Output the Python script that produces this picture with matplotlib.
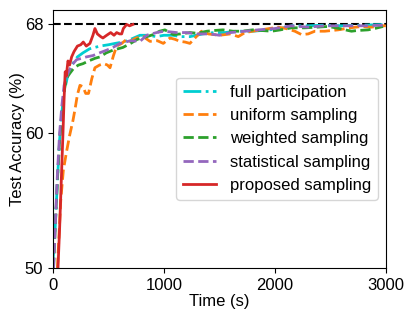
import matplotlib
matplotlib.use("Agg")
import matplotlib.pyplot as plt

plt.rcParams["font.family"] = ["Liberation Sans", "DejaVu Sans"]
plt.rcParams["font.size"] = 12

# time (s) and test accuracy (%)
full_t = [0, 20, 40, 60, 80, 100, 135, 170, 220, 270, 330, 423, 500, 560, 630, 700, 784, 850,
          934, 1000, 1081, 1150, 1234, 1350, 1450, 1550, 1650, 1800, 1950, 2050, 2150, 2300,
          2450, 2600, 2800, 3000]
full_acc = [50.5, 53, 56.5, 59.5, 61.5, 63, 64.3, 65, 65.6, 65.9, 66.2, 66.4, 66.5, 66.6, 66.7,
            66.9, 67.2, 67.2, 67.1, 67.2, 67.2, 67.1, 67.1, 67.3, 67.4, 67.4, 67.5, 67.5, 67.6,
            67.7, 67.9, 67.9, 67.95, 67.9, 67.95, 68.0]

unif_t = [40, 55, 70, 93, 120, 150, 180, 200, 220, 243, 270, 295, 320, 350, 378, 420, 460, 490,
          514, 545, 574, 620, 664, 694, 750, 814, 874, 940, 994, 1054, 1100, 1144, 1190, 1234,
          1280, 1339, 1400, 1500, 1600, 1670, 1730, 1800, 1880, 1950, 2030, 2100, 2180, 2240,
          2300, 2360, 2450, 2570, 2680, 2780, 2870, 2960, 3000]
unif_acc = [50, 52.5, 55, 57.2, 58.5, 59.8, 60.9, 61.8, 62.8, 63.5, 63.4, 62.9, 62.9, 64, 64.8,
            65, 65.1, 65, 64.8, 65.7, 66.4, 66.6, 66.9, 66.75, 67, 67.1, 66.75, 66.8, 66.6, 67,
            66.9, 66.75, 66.7, 66.6, 67.0, 67.5, 67.3, 67.2, 67.3, 67.1, 67.4, 67.5, 67.6, 67.7,
            67.8, 67.7, 67.5, 67.25, 67.3, 67.5, 67.5, 67.6, 67.75, 67.85, 67.8, 67.9, 67.9]

wght_t = [5, 20, 40, 60, 80, 100, 120, 153, 190, 230, 270, 320, 380, 423, 480, 540, 630, 700,
          760, 847, 904, 960, 1009, 1050, 1084, 1150, 1234, 1300, 1387, 1450, 1532, 1622, 1700,
          1800, 1970, 2050, 2150, 2270, 2380, 2480, 2580, 2690, 2739, 2840, 2900, 2975]
wght_acc = [50, 53, 56.5, 59.5, 61.5, 63, 64, 64.4, 64.8, 65, 65.1, 65.3, 65.5, 65.6, 65.9, 66.1,
            66.3, 66.6, 66.9, 67.1, 67.25, 67.5, 67.6, 67.4, 67.25, 67.3, 67.4, 67.35, 67.5,
            67.55, 67.6, 67.5, 67.5, 67.6, 67.5, 67.6, 67.75, 67.75, 67.8, 67.85, 67.7, 67.5,
            67.55, 67.6, 67.7, 67.85]

stat_t = [5, 20, 40, 60, 80, 100, 130, 170, 213, 260, 300, 360, 420, 484, 540, 604, 700, 784,
          844, 934, 1000, 1114, 1200, 1294, 1400, 1459, 1500, 1600, 1730, 1850, 2000, 2150,
          2300, 2450, 2600, 2800, 3000]
stat_acc = [50, 53, 57, 60, 62, 63.5, 64.3, 65, 65.4, 65.5, 65.6, 65.7, 65.9, 66.1, 66.3, 66.6,
            66.8, 66.75, 67.2, 67.4, 67.5, 67.4, 67.4, 67.3, 67.3, 67.25, 67.2, 67.4, 67.5, 67.6,
            67.7, 67.9, 67.8, 67.9, 67.9, 67.9, 67.95]

prop_t = [45, 60, 75, 90, 100, 110, 120, 135, 150, 168, 190, 220, 250, 273, 300, 333, 360, 378,
          400, 430, 450, 484, 520, 550, 574, 600, 619, 634, 664, 690, 720]
prop_acc = [50, 53, 56.5, 60, 62.5, 64.5, 64.2, 65.3, 65, 65.6, 66, 66.4, 66.5, 66.7, 66.4, 66.6,
            67.2, 67.7, 67.3, 67.1, 67, 67.2, 67.4, 67.2, 67.4, 67.3, 67.3, 67.7, 68, 67.9, 68]

target = 68

fig = plt.figure(figsize=(4.14, 3.19), dpi=100)
ax = fig.add_axes([0.128, 0.160, 0.804, 0.810])

ax.axhline(target, color="black", linestyle="--", linewidth=1.5)
ax.plot(full_t, full_acc, "-.", color="darkturquoise", lw=2, label="full participation")
ax.plot(unif_t, unif_acc, "--", color="tab:orange", lw=2, label="uniform sampling")
ax.plot(wght_t, wght_acc, "--", color="tab:green", lw=2, label="weighted sampling")
ax.plot(stat_t, stat_acc, "--", color="tab:purple", lw=2, label="statistical sampling")
ax.plot(prop_t, prop_acc, "-", color="tab:red", lw=2, label="proposed sampling")

ax.set_xlim(0, 3000)
ax.set_ylim(50, 69.1)
ax.set_xticks([0, 1000, 2000, 3000])
ax.set_yticks([50, 60, 68])
ax.set_xlabel("Time (s)", labelpad=1)
ax.set_ylabel("Test Accuracy (%)", labelpad=0)
ax.legend(loc="center right", fontsize=12)

fig.savefig("out.png", dpi=100)
